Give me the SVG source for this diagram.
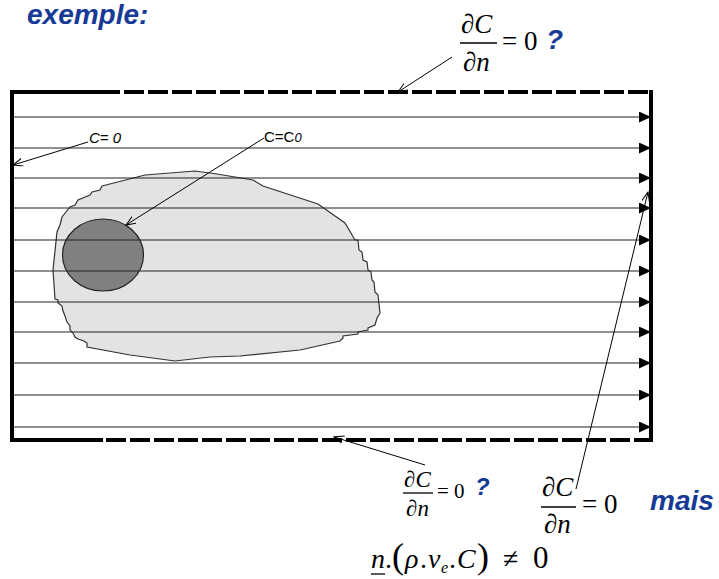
<svg xmlns="http://www.w3.org/2000/svg" width="719" height="579" viewBox="0 0 719 579">
<style>
.blue{font-family:"Liberation Sans",Arial,sans-serif;font-weight:bold;font-style:italic;fill:#173a96}
.math{font-family:"Liberation Serif","Times New Roman",serif;fill:#000}
.it{font-style:italic}
.lbl{font-family:"Liberation Sans",Arial,sans-serif;font-size:15px;fill:#000}
.flow{stroke:#222;stroke-width:1.2;fill:none;marker-end:url(#fa)}
.ptr{stroke:#000;stroke-width:1;fill:none;marker-end:url(#oa)}
.bar{stroke:#000;stroke-width:1.3}
.solid{stroke:#000;stroke-width:4;fill:none}
.dash{stroke:#000;stroke-width:4;fill:none;stroke-dasharray:20 4}
</style>
<defs>
<marker id="fa" markerUnits="userSpaceOnUse" markerWidth="13" markerHeight="12" refX="12" refY="5.5" orient="auto">
<path d="M0,0 L12,5.5 L0,11 z" fill="#000"/>
</marker>
<marker id="oa" markerUnits="userSpaceOnUse" markerWidth="12" markerHeight="10" refX="10" refY="4" orient="auto">
<path d="M0,0 L10,4 L0,8" fill="none" stroke="#000" stroke-width="1"/>
</marker>
</defs>
<rect width="719" height="579" fill="#fff"/>

<text id="title" class="blue" x="27" y="24" font-size="28">exemple:</text>

<g id="blob">
<path d="M102,186 L145,175 L195,171 L217,174 L253,180 L263,186 L318,204 L345,223 L355,240 L358,240 L359,250 L362,252 L363,260 L367,262 L368,270 L371,272 L372,280 L374,282 L375,292 L378,295 L380,313 L377,318 L375,325 L368,328 L368,330 L358,332 L358,334 L343,336 L343,338 L340,341 L300,350 L240,356 L210,357 L175,361 L130,355 L87,347 L87,343 L84,341 L78,339 L75,337 L73,333 L70,330 L70,326 L67,322 L65,316 L63,311 L62,306 L58,303 L58,300 L55,299 L53,270 L57,232 L60,225 L62,217 L70,207 L75,205 L78,200 L90,195 L92,192 L100,190 Z" fill="#e3e3e3" stroke="#333" stroke-width="1.2"/>
</g>
<g id="source">
<ellipse cx="103" cy="255" rx="40.5" ry="36" fill="#808080" stroke="#222" stroke-width="1.2"/>
</g>

<g id="domain">
<line class="solid" x1="12" y1="90" x2="12" y2="442"/>
<line class="solid" x1="10" y1="92" x2="100" y2="92"/>
<line class="dash" x1="100" y1="92" x2="651" y2="92"/>
<line class="solid" x1="10" y1="440" x2="103" y2="440"/>
<line class="dash" x1="106" y1="440" x2="651" y2="440"/>
<line class="solid" x1="651" y1="90" x2="651" y2="442"/>
</g>

<g id="flow">
<line class="flow" x1="14" y1="117" x2="651" y2="117"/>
<line class="flow" x1="14" y1="148" x2="651" y2="148"/>
<line class="flow" x1="14" y1="178" x2="651" y2="178"/>
<line class="flow" x1="14" y1="208" x2="651" y2="208"/>
<line class="flow" x1="14" y1="240" x2="651" y2="240"/>
<line class="flow" x1="14" y1="271" x2="651" y2="271"/>
<line class="flow" x1="14" y1="302" x2="651" y2="302"/>
<line class="flow" x1="14" y1="332" x2="651" y2="332"/>
<line class="flow" x1="14" y1="363" x2="651" y2="363"/>
<line class="flow" x1="14" y1="395" x2="651" y2="395"/>
<line class="flow" x1="14" y1="427" x2="651" y2="427"/>
</g>

<g id="label-c0">
<text class="lbl it" x="89" y="143">C= 0</text>
</g>
<g id="label-cc0">
<text class="lbl" x="264" y="142">C=C<tspan class="it" font-size="13">0</tspan></text>
</g>

<g id="cond-top">
<text class="math" font-size="27" x="461" y="33">∂<tspan class="it">C</tspan></text>
<line class="bar" x1="460" y1="43" x2="497" y2="43"/>
<text class="math" font-size="27" x="463" y="71">∂<tspan class="it">n</tspan></text>
<text class="math" font-size="27" x="502" y="50">= 0</text>
<text class="blue" font-size="28" x="546" y="49">?</text>
</g>

<g id="cond-bottom">
<text class="math" font-size="23" x="404" y="487">∂<tspan class="it">C</tspan></text>
<line class="bar" x1="403" y1="493" x2="433" y2="493"/>
<text class="math" font-size="23" x="406" y="516">∂<tspan class="it">n</tspan></text>
<text class="math" font-size="21" x="437" y="498">= 0</text>
<text class="blue" font-size="24" x="475" y="495">?</text>
</g>

<g id="cond-right">
<text class="math" font-size="27" x="542" y="496">∂<tspan class="it">C</tspan></text>
<line class="bar" x1="541" y1="507" x2="576" y2="507"/>
<text class="math" font-size="27" x="544" y="533">∂<tspan class="it">n</tspan></text>
<text class="math" font-size="27" x="582" y="513">= 0</text>
<text class="blue" font-size="28" x="650" y="510">mais</text>
</g>

<g id="flux">
<text class="math" font-size="28" y="568"><tspan class="it" x="371">n</tspan><tspan x="385">.</tspan><tspan x="392" font-size="36">(</tspan><tspan class="it" x="405">ρ</tspan><tspan x="420">.</tspan><tspan class="it" x="428">v</tspan><tspan class="it" x="441" font-size="16" dy="5">e</tspan><tspan x="449" dy="-5">.</tspan><tspan class="it" x="457">C</tspan><tspan x="477" font-size="36">)</tspan><tspan x="503">≠</tspan><tspan x="533" font-size="31">0</tspan></text>
<line x1="371" y1="574" x2="385" y2="574" stroke="#000" stroke-width="1.3"/>
</g>

<g id="connectors">
<line class="ptr" x1="88" y1="142" x2="13" y2="165"/>
<line class="ptr" x1="264" y1="138" x2="126" y2="225"/>
<line class="ptr" x1="452" y1="57" x2="398" y2="92"/>
<line class="ptr" x1="425" y1="465" x2="334" y2="437"/>
<line class="ptr" x1="576" y1="489" x2="648" y2="192"/>
</g>
</svg>
